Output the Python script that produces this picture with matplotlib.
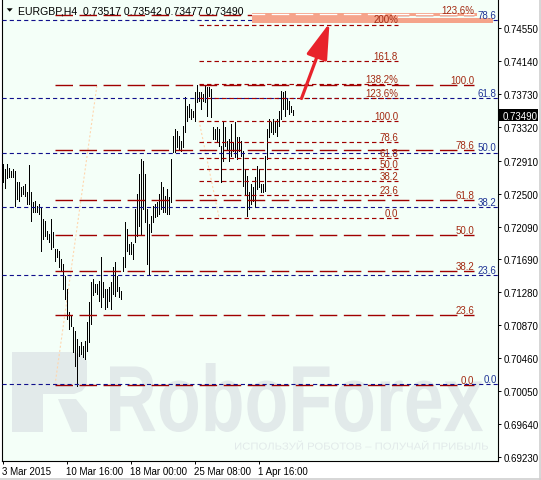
import matplotlib
matplotlib.use("Agg")
from matplotlib import pyplot as plt
from matplotlib.patches import Rectangle, Polygon, PathPatch
from matplotlib.textpath import TextPath
from matplotlib.font_manager import FontProperties
from matplotlib.transforms import Affine2D

W, H = 541, 481

# EURGBP H4 bars (high / low)
highs = [0.7287, 0.7281, 0.7287, 0.7282, 0.7278, 0.7281, 0.7278, 0.7264, 0.7264, 0.7258,
         0.7259, 0.7262, 0.7252, 0.7286, 0.7252, 0.7240, 0.7241, 0.7235, 0.7237, 0.7233,
         0.7219, 0.7216, 0.7204, 0.7200, 0.7219, 0.7202, 0.7181, 0.7181, 0.7179, 0.7169,
         0.7163, 0.7148, 0.7132, 0.7103, 0.7098, 0.7085, 0.7080, 0.7070, 0.7061, 0.7066,
         0.7061, 0.7067, 0.7091, 0.7116, 0.7140, 0.7144, 0.7138, 0.7138, 0.7142, 0.7171,
         0.7140, 0.7132, 0.7132, 0.7134, 0.7140, 0.7159, 0.7165, 0.7148, 0.7134, 0.7129,
         0.7171, 0.7215, 0.7206, 0.7188, 0.7190, 0.7188, 0.7231, 0.7250, 0.7274, 0.7293,
         0.7290, 0.7274, 0.7231, 0.7212, 0.7222, 0.7235, 0.7237, 0.7240, 0.7250, 0.7264,
         0.7258, 0.7247, 0.7256, 0.7246, 0.7293, 0.7321, 0.7330, 0.7328, 0.7321, 0.7315,
         0.7334, 0.7370, 0.7359, 0.7361, 0.7355, 0.7352, 0.7376, 0.7385, 0.7376, 0.7376,
         0.7374, 0.7384, 0.7382, 0.7382, 0.7380, 0.7333, 0.7330, 0.7333, 0.7330, 0.7309,
         0.7340, 0.7333, 0.7315, 0.7318, 0.7336, 0.7314, 0.7339, 0.7320, 0.7320, 0.7315,
         0.7303, 0.7281, 0.7272, 0.7252, 0.7262, 0.7258, 0.7271, 0.7284, 0.7281, 0.7262,
         0.7262, 0.7297, 0.7330, 0.7343, 0.7339, 0.7343, 0.7339, 0.7343, 0.7352, 0.7377,
         0.7376, 0.7377, 0.7367, 0.7365, 0.7359, 0.73542]
lows = [0.7264, 0.7257, 0.7269, 0.7271, 0.7271, 0.7271, 0.7235, 0.7243, 0.7241, 0.7247,
        0.7250, 0.7247, 0.7237, 0.7237, 0.7216, 0.7227, 0.7227, 0.7227, 0.7225, 0.7179,
        0.7194, 0.7198, 0.7194, 0.7190, 0.7181, 0.7184, 0.7167, 0.7171, 0.7159, 0.7154,
        0.7132, 0.7119, 0.7095, 0.7082, 0.7086, 0.7054, 0.7036, 0.7012, 0.7049, 0.7051,
        0.7047, 0.7045, 0.7055, 0.7066, 0.7088, 0.7124, 0.7128, 0.7126, 0.7117, 0.7109,
        0.7122, 0.7107, 0.7109, 0.7117, 0.7107, 0.7126, 0.7123, 0.7129, 0.7122, 0.7119,
        0.7154, 0.7159, 0.7179, 0.7175, 0.7175, 0.7169, 0.7190, 0.7198, 0.7210, 0.7200,
        0.7231, 0.7215, 0.7163, 0.7150, 0.7202, 0.7215, 0.7221, 0.7222, 0.7225, 0.7231,
        0.7227, 0.7227, 0.7225, 0.7225, 0.7240, 0.7302, 0.7302, 0.7308, 0.7305, 0.7303,
        0.7308, 0.7326, 0.7340, 0.7345, 0.7343, 0.7345, 0.7340, 0.7364, 0.7365, 0.7355,
        0.7365, 0.7364, 0.7346, 0.7371, 0.7345, 0.7318, 0.7318, 0.7315, 0.7309, 0.7264,
        0.7290, 0.7309, 0.7305, 0.7290, 0.7297, 0.7303, 0.7295, 0.7293, 0.7303, 0.7297,
        0.7259, 0.7250, 0.7222, 0.7231, 0.7237, 0.7241, 0.7233, 0.7256, 0.7258, 0.7252,
        0.7252, 0.7253, 0.7293, 0.7320, 0.7326, 0.7324, 0.7326, 0.7321, 0.7334, 0.7343,
        0.7355, 0.7346, 0.7355, 0.7349, 0.7351, 0.73477]
last_ohlc = [0.73517, 0.73542, 0.73477, 0.73490]

xtick_pos = [0, 32, 64, 96, 128]
xtick_labels = ["3 Mar 2015", "10 Mar 16:00", "18 Mar 00:00", "25 Mar 08:00", "1 Apr 16:00"]
ytick_vals = [0.74550, 0.74140, 0.73730, 0.73320, 0.72910, 0.72500, 0.72090,
              0.71690, 0.71280, 0.70870, 0.70460, 0.70050, 0.69640, 0.69230]

# fibonacci grids: (0% price, 100% price)
fib_a = (0.70127, 0.73847)
fib_a_levels = [0, 23.6, 38.2, 50, 61.8, 78.6, 100, 123.6]
fib_a_text = ["0.0", "23.6", "38.2", "50.0", "61.8", "78.6", "100.0", "123.6%"]
fib_b = (0.7014, 0.7589)
fib_b_levels = [0, 23.6, 38.2, 50, 61.8, 78.6]
fib_b_text = ["0.0", "23.6", "38.2", "50.0", "61.8", "78.6"]
fib_c = (0.72206, 0.73404)
fib_c_levels = [0, 23.6, 38.2, 50, 61.8, 78.6, 100, 123.6, 138.2, 161.8, 200]
fib_c_text = ["0.0", "23.6", "38.2", "50.0", "61.8", "78.6", "100.0",
              "123.6%", "138.2%", "161.8", "200%"]

plt.rcParams['font.family'] = ['Liberation Sans', 'DejaVu Sans']
plt.rcParams['lines.scale_dashes'] = False

BG = '#F4FFF8'
RED = '#A00000'
RED_TXT = '#A32A12'
NAVY = '#10108C'
BLUE_TXT = '#1F3596'
WM = '#E2EAEA'
FS = 7


def ix(px):
    # chart pixel column -> bar index
    return (px - 2.5) / 2.0


def price(py):
    return 0.74913 - 0.000124 * py


def snap(p):
    # put a level on the centre of its pixel row so the line stays crisp
    row = round((0.74913 - p) / 0.000124 - 0.5) + 0.5
    return price(row)


fig = plt.figure(figsize=(W / 100, H / 100), dpi=100)
fig.patch.set_facecolor('white')
ax = fig.add_axes([2 / W, 1 - 461.7 / H, 495.7 / W, 461.7 / H])
ax.set_facecolor(BG)
ax.set_xlim(-0.25, -0.25 + 495.7 / 2)
ax.set_ylim(price(461.7), price(0))

for s in ['left', 'right', 'bottom']:
    ax.spines[s].set_color('black')
    ax.spines[s].set_linewidth(0.8)
ax.spines['top'].set_visible(False)


# watermark
def stamp(text, x0, x1, ytop, ybase, weight='normal'):
    tp = TextPath((0, 0), text, size=100, prop=FontProperties(family='Liberation Sans', weight=weight))
    bb = tp.get_extents()
    tr = (Affine2D().translate(-bb.x0, -bb.y0)
          .scale((x1 - x0) / bb.width, (ybase - ytop) / bb.height)
          .translate(x0, H - ybase))
    ax.add_patch(PathPatch(tp, transform=tr, fc=WM, ec='none', zorder=0.5))


stamp("RoboForex", 110, 483, 364, 433, weight='bold')
stamp("ИСПОЛЬЗУЙ РОБОТОВ – ПОЛУЧАЙ ПРИБЫЛЬ", 235, 488, 441.5, 450.7)
logo = [
    [(12, 353), (43, 353), (43, 433), (12, 433)],
    [(43, 353), (74, 353), (82, 356), (87, 362), (87, 386), (82, 392), (74, 395), (43, 395)],
    [(58, 400), (76, 400), (87, 414), (87, 433), (72, 433)],
]
for pts in logo:
    ax.add_patch(Polygon([(x, H - y) for x, y in pts], closed=True, transform=Affine2D(),
                         fc=WM, ec='none', zorder=0.5))

# peach trend lines of the grids
ax.plot([ix(55), ix(97)], [fib_a[0], fib_a[1]], color='#FFD6AE', lw=0.8,
        dashes=(1.5, 1.5), zorder=1.5)
ax.plot([ix(199), ix(219)], [fib_c[1], fib_c[0]], color='#FFD6AE', lw=0.8,
        dashes=(1.5, 1.5), zorder=1.5)

# bars
idx = list(range(len(highs)))
ax.vlines(idx, lows, highs, colors='black', lw=0.7, antialiaseds=False, zorder=2)

off = 1.6 * 0.000124
# grid A (long dashes)
for lvl, txt in zip(fib_a_levels, fib_a_text):
    p = fib_a[0] + (fib_a[1] - fib_a[0]) * lvl / 100
    ax.plot([ix(55), ix(474)], [snap(p), snap(p)], color=RED, lw=1.0, dashes=(12.6, 4.7),
            dash_capstyle='butt', zorder=3)
    ax.text(ix(474), p + off, txt, ha='right', va='baseline', color=RED_TXT, fontsize=FS, zorder=6)
# grid B (navy, full width)
for lvl, txt in zip(fib_b_levels, fib_b_text):
    p = fib_b[0] + (fib_b[1] - fib_b[0]) * lvl / 100
    ax.axhline(snap(p), color=NAVY, lw=0.8, dashes=(3.0, 2.2), dash_capstyle='butt', zorder=3)
    ax.text(ix(496.5), p + off, txt, ha='right', va='baseline', color=BLUE_TXT, fontsize=FS, zorder=6)
# grid C (short dashes)
for lvl, txt in zip(fib_c_levels, fib_c_text):
    p = fib_c[0] + (fib_c[1] - fib_c[0]) * lvl / 100
    ax.plot([ix(199), ix(398)], [snap(p), snap(p)], color=RED, lw=0.85, dashes=(3.2, 2.2),
            dash_capstyle='butt', zorder=3)
    ax.text(ix(398), p + off, txt, ha='right', va='baseline', color=RED_TXT, fontsize=FS, zorder=6)

# salmon target zone
zone = [Rectangle((ix(252), price(24)), ix(398) - ix(252), price(14) - price(24)),
        Rectangle((ix(398), price(17.3)), ix(477) - ix(398), price(14) - price(17.3)),
        Rectangle((ix(398), price(24)), ix(493) - ix(398), price(19.3) - price(24))]
for r in zone:
    r.set_facecolor('#F5A48B')
    r.set_edgecolor('none')
    r.set_zorder(4)
    ax.add_patch(r)
p_top = fib_a[0] + (fib_a[1] - fib_a[0]) * 1.236
for r in zone[:2]:
    ln, = ax.plot([ix(55), ix(474)], [p_top, p_top], color='white', lw=0.9,
                  dashes=(12.6, 4.7), zorder=4.5)
    ln.set_clip_path(r)

# arrow
ax.annotate('', xy=(ix(329.5), price(24)), xytext=(ix(301.5), price(99.5)),
            arrowprops=dict(arrowstyle='-|>,head_length=1.1,head_width=0.33', color='#E8232B',
                            lw=2.3, mutation_scale=20, shrinkA=0, shrinkB=0), zorder=7)

# axes ticks
ax.yaxis.tick_right()
ax.set_yticks(ytick_vals)
ax.set_yticklabels([f"{v:.5f}" for v in ytick_vals])
ax.tick_params(axis='y', direction='out', length=2.5, width=0.7, pad=2.0, labelsize=FS)
ax.set_xticks(xtick_pos)
ax.set_xticklabels(xtick_labels)
for lab in ax.get_xticklabels():
    lab.set_ha('left')
ax.tick_params(axis='x', direction='out', length=2.5, width=0.7, pad=1.3, labelsize=FS)

# current price box
fig.add_artist(Rectangle((498 / W, 1 - 121.5 / H), 40 / W, 12 / H, transform=fig.transFigure,
                         fc='black', ec='none'))
fig.text(503 / W, 1 - 115.5 / H, f"{last_ohlc[3]:.5f}", color='white', fontsize=FS,
         va='center_baseline', ha='left')

# header
fig.add_artist(Polygon([(6.7 / W, 1 - 9.3 / H), (12.7 / W, 1 - 9.3 / H), (9.7 / W, 1 - 12.7 / H)],
                       closed=True, transform=fig.transFigure, fc='black', ec='none'))
fig.text(18 / W, 1 - 10.5 / H,
         "EURGBP,H4  " + " ".join(f"{v:.5f}" for v in last_ohlc),
         fontsize=7.6, va='center_baseline', ha='left', color='black')

# window border
fig.add_artist(plt.Line2D([539.5 / W, 539.5 / W], [0, 1], color='#D0D0D0', lw=1.2,
                          transform=fig.transFigure))
fig.add_artist(plt.Line2D([0, 1], [1.2 / H, 1.2 / H], color='#D0D0D0', lw=1.2,
                          transform=fig.transFigure))

fig.savefig("out.png", dpi=100, facecolor=fig.get_facecolor())
